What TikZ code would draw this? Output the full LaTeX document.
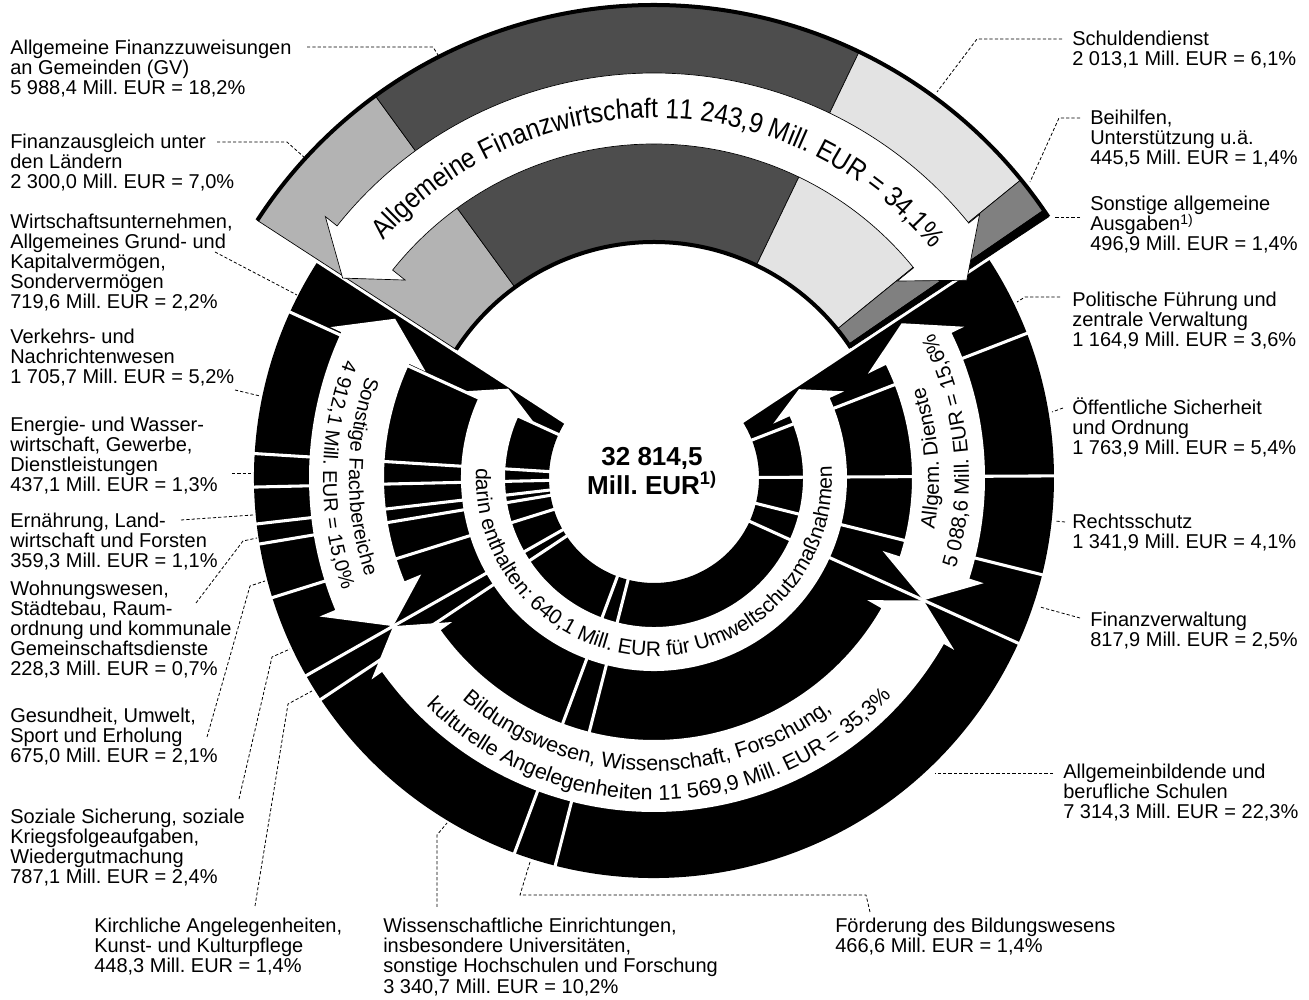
\documentclass[tikz,border=0pt]{standalone}
\usepackage{fontspec}
\setmainfont{Liberation Sans}
\newfontfamily\fwfont[FakeStretch=0.89]{Liberation Sans}
\usetikzlibrary{decorations.text}
\definecolor{gA}{HTML}{B3B3B3}
\definecolor{gB}{HTML}{4D4D4D}
\definecolor{gC}{HTML}{E3E3E3}
\definecolor{gD}{HTML}{808080}
\frenchspacing
\newcommand\lab[1]{\vtop{\fontsize{15pt}{15pt}\selectfont\frenchspacing\baselineskip=15pt\lineskiplimit=-30pt\lineskip=0pt\halign{##\hfil\cr#1\crcr}}}
\begin{document}
\begin{tikzpicture}[x=0.75pt,y=0.75pt,
  lbl/.style={inner sep=0pt, anchor=base west},
  leader/.style={draw=black, line width=0.6pt, dash pattern=on 2.4pt off 1.6pt},
  divider/.style={draw=white, line width=2.3pt},
  gapline/.style={draw=white, line width=5pt},
  gseg/.style={draw=black, line width=0.5pt},
  whitearrow/.style={fill=white},
  grayarrow/.style={fill=white, draw=black, line width=0.5pt},
  ctr/.style={inner sep=0pt, anchor=base, font=\bfseries\fontsize{19.5pt}{19.5pt}\selectfont\frenchspacing}]
\useasboundingbox (0,0) rectangle (1309,999);
\fill[white] (0,0) rectangle (1309,999);

\begin{scope}[shift={(654,521)}]
  % black rings
  \fill[black] (147:400) arc[start angle=147, end angle=393.5, radius=400]
     -- (393.5:105) arc[start angle=393.5, end angle=147, radius=105] -- cycle;
  % gaps between the grey sector and the black rings
  \draw[gapline] (147:95) -- (147:486);
  \draw[gapline] (33.5:95) -- (33.5:486);
  % grey sector
  \filldraw[gseg, fill=gA] (147:236) -- (147:473) arc[start angle=147, end angle=126.1, radius=473] -- (126.1:236) arc[start angle=126.1, end angle=147, radius=236] -- cycle;
  \filldraw[gseg, fill=gB] (126.1:236) -- (126.1:473) arc[start angle=126.1, end angle=64.3, radius=473] -- (64.3:236) arc[start angle=64.3, end angle=126.1, radius=236] -- cycle;
  \filldraw[gseg, fill=gC] (64.3:236) -- (64.3:473) arc[start angle=64.3, end angle=39.1, radius=473] -- (39.1:236) arc[start angle=39.1, end angle=64.3, radius=236] -- cycle;
  \filldraw[gseg, fill=gD] (39.1:236) -- (39.1:473) arc[start angle=39.1, end angle=34.5, radius=473] -- (34.5:236) arc[start angle=34.5, end angle=39.1, radius=236] -- cycle;
  \filldraw[gseg, fill=black] (34.5:236) -- (34.5:473) arc[start angle=34.5, end angle=33.5, radius=473] -- (33.5:236) arc[start angle=33.5, end angle=34.5, radius=236] -- cycle;
  \filldraw[grayarrow] (147.3:370) -- (141.5:420) -- (141.5:405)
     arc[start angle=141.5, end angle=39, radius=405] -- (39:419) -- (32.3:370) -- (39:313) -- (39:334)
     arc[start angle=39, end angle=141.5, radius=334] -- (141.5:318) -- cycle;
  \draw[line width=3pt] (147:473) arc[start angle=147, end angle=33.5, radius=473];
  \draw[line width=3pt] (147:236) arc[start angle=147, end angle=33.5, radius=236];

  % white arrows inside the black rings
  \fill[whitearrow] (148.5:171) -- (155.5:209) -- (155.5:193)
     arc[start angle=155.5, end angle=384.5, radius=193] -- (384.5:209) -- (391.5:170) -- (384.5:131) -- (384.5:149)
     arc[start angle=384.5, end angle=155.5, radius=149] -- (155.5:131) -- cycle;
  \fill[whitearrow] (148.4:304) -- (155:357) -- (155:345)
     arc[start angle=155, end angle=202.5, radius=345] -- (202.5:362) -- (209.6:300) -- (202.5:252) -- (202.5:270)
     arc[start angle=202.5, end angle=155, radius=270] -- (155:252) -- cycle;
  \fill[whitearrow] (209.6:300) -- (215.5:347) -- (215.5:334)
     arc[start angle=215.5, end angle=330.2, radius=334] -- (330.2:346) -- (335.6:296) -- (330.2:246) -- (330.2:262)
     arc[start angle=330.2, end angle=215.5, radius=262] -- (215.5:248) -- cycle;
  \fill[whitearrow] (335.6:296) -- (342.3:346) -- (342.3:331)
     arc[start angle=342.3, end angle=386, radius=331] -- (386:345) -- (392:292) -- (386:238) -- (386:258)
     arc[start angle=386, end angle=342.3, radius=258] -- (342.3:240) -- cycle;

  % white dividers between the items
  \foreach \a in {155.5,176.5,181.3,186.6,189.5,197.4,209.6,213.6,249.6,255.7,335.6,346,360.3,381.2}
    \draw[divider] (\a:103) -- (\a:403);

  % texts along the bands
  \begingroup\fwfont\fontsize{21pt}{21pt}\selectfont
  \path[decorate, decoration={text along path, text align=center,
     text={Allgemeine Finanzwirtschaft 11 243,9 Mill. EUR = 34,1{\%}}}]
     (141:360) arc[start angle=141, end angle=37.2, radius=360];
  \endgroup
  \begingroup\fontsize{15.75pt}{15.75pt}\selectfont
  \path[decorate, decoration={text along path, text align=center,
     text={darin enthalten: 640,1 Mill. EUR für Umweltschutzmaßnahmen}}]
     (160:178) arc[start angle=160, end angle=380.7, radius=178];
  \endgroup
  \begingroup\fontsize{15pt}{15pt}\selectfont
  \path[decorate, decoration={text along path, text align=center,
     text={Sonstige Fachbereiche}}]
     (140:305) arc[start angle=140, end angle=219.4, radius=305];
  \path[decorate, decoration={text along path, text align=center,
     text={4 912,1 Mill. EUR = 15,0{\%}}}]
     (140:331) arc[start angle=140, end angle=218.8, radius=331];
  \endgroup
  \begingroup\fontsize{16pt}{16pt}\selectfont
  \path[decorate, decoration={text along path, text align=center,
     text={Bildungswesen, Wissenschaft, Forschung,}}]
     (218.25:293) arc[start angle=218.25, end angle=318.25, radius=293];
  \path[decorate, decoration={text along path, text align=center,
     text={kulturelle Angelegenheiten 11 569,9 Mill. EUR = 35,3{\%}}}]
     (216.25:322) arc[start angle=216.25, end angle=326.25, radius=322];
  \endgroup
  \begingroup\fontsize{15.5pt}{15.5pt}\selectfont
  \path[decorate, decoration={text along path, text align=center,
     text={Allgem. Dienste}}]
     (-30:285) arc[start angle=-30, end angle=38.2, radius=285];
  \path[decorate, decoration={text along path, text align=center,
     text={5 088,6 Mill. EUR = 15,6{\%}}}]
     (-25:315) arc[start angle=-25, end angle=35.7, radius=315];
  \endgroup
\end{scope}

% total in the centre
\node[ctr] (tot1) at (652,533) {32 814,5};
\node[ctr] (tot2) at (652,504) {Mill. EUR\textsuperscript{1)}};

% labels
\node[lbl] (l1) at (10,944) {\lab{Allgemeine Finanzzuweisungen\cr an Gemeinden (GV)\cr 5 988,4 Mill. EUR = 18,2\%}};
\node[lbl] (l2) at (10,850) {\lab{Finanzausgleich unter\cr den Ländern\cr 2 300,0 Mill. EUR = 7,0\%}};
\node[lbl] (l3) at (10,770) {\lab{Wirtschaftsunternehmen,\cr Allgemeines Grund- und\cr Kapitalvermögen,\cr Sondervermögen\cr 719,6 Mill. EUR = 2,2\%}};
\node[lbl] (l4) at (10,655) {\lab{Verkehrs- und\cr Nachrichtenwesen\cr 1 705,7 Mill. EUR = 5,2\%}};
\node[lbl] (l5) at (10,567) {\lab{Energie- und Wasser-\cr wirtschaft, Gewerbe,\cr Dienstleistungen\cr 437,1 Mill. EUR = 1,3\%}};
\node[lbl] (l6) at (10,471) {\lab{Ernährung, Land-\cr wirtschaft und Forsten\cr 359,3 Mill. EUR = 1,1\%}};
\node[lbl] (l7) at (10,403) {\lab{Wohnungswesen,\cr Städtebau, Raum-\cr ordnung und kommunale\cr Gemeinschaftsdienste\cr 228,3 Mill. EUR = 0,7\%}};
\node[lbl] (l8) at (10,276) {\lab{Gesundheit, Umwelt,\cr Sport und Erholung\cr 675,0 Mill. EUR = 2,1\%}};
\node[lbl] (l9) at (10,175) {\lab{Soziale Sicherung, soziale\cr Kriegsfolgeaufgaben,\cr Wiedergutmachung\cr 787,1 Mill. EUR = 2,4\%}};
\node[lbl] (l10) at (94,66) {\lab{Kirchliche Angelegenheiten,\cr Kunst- und Kulturpflege\cr 448,3 Mill. EUR = 1,4\%}};
\node[lbl] (l11) at (383,66) {\lab{Wissenschaftliche Einrichtungen,\cr insbesondere Universitäten,\cr sonstige Hochschulen und Forschung\cr 3 340,7 Mill. EUR = 10,2\%}};
\node[lbl] (l12) at (835,67) {\lab{Förderung des Bildungswesens\cr 466,6 Mill. EUR = 1,4\%}};
\node[lbl] (l13) at (1072,953) {\lab{Schuldendienst\cr 2 013,1 Mill. EUR = 6,1\%}};
\node[lbl] (l14) at (1090,874) {\lab{Beihilfen,\cr Unterstützung u.ä.\cr 445,5 Mill. EUR = 1,4\%}};
\node[lbl] (l15) at (1090,788) {\lab{Sonstige allgemeine\cr Ausgaben\textsuperscript{1)}\cr 496,9 Mill. EUR = 1,4\%}};
\node[lbl] (l16) at (1072,692) {\lab{Politische Führung und\cr zentrale Verwaltung\cr 1 164,9 Mill. EUR = 3,6\%}};
\node[lbl] (l17) at (1072,584) {\lab{Öffentliche Sicherheit\cr und Ordnung\cr 1 763,9 Mill. EUR = 5,4\%}};
\node[lbl] (l18) at (1072,470) {\lab{Rechtsschutz\cr 1 341,9 Mill. EUR = 4,1\%}};
\node[lbl] (l19) at (1090,372) {\lab{Finanzverwaltung\cr 817,9 Mill. EUR = 2,5\%}};
\node[lbl] (l20) at (1063,220) {\lab{Allgemeinbildende und\cr berufliche Schulen\cr 7 314,3 Mill. EUR = 22,3\%}};

% leader lines
\coordinate (a1) at (307,952); \coordinate (b1) at (433,952); \coordinate (c1) at (438,944);
\draw[leader] (a1) -- (b1) -- (c1);
\coordinate (a2) at (217,857); \coordinate (b2) at (287,857); \coordinate (c2) at (305,841);
\draw[leader] (a2) -- (b2) -- (c2);
\coordinate (a3) at (215,747); \coordinate (c3) at (297,704);
\draw[leader] (a3) -- (c3);
\coordinate (a4) at (235,609); \coordinate (c4) at (260,603);
\draw[leader] (a4) -- (c4);
\coordinate (a5) at (232,526); \coordinate (c5) at (252,526);
\draw[leader] (a5) -- (c5);
\coordinate (a6) at (181,479); \coordinate (c6) at (253,484);
\draw[leader] (a6) -- (c6);
\coordinate (a7) at (196,396); \coordinate (b7) at (243,458); \coordinate (c7) at (257,461);
\draw[leader] (a7) -- (b7) -- (c7);
\coordinate (a8) at (207,262); \coordinate (b8) at (250,413); \coordinate (c8) at (265,418);
\draw[leader] (a8) -- (b8) -- (c8);
\coordinate (a9) at (239,200); \coordinate (b9) at (272,342); \coordinate (c9) at (290,350);
\draw[leader] (a9) -- (b9) -- (c9);
\coordinate (a10) at (255,93); \coordinate (b10) at (288,295); \coordinate (c10) at (312,308);
\draw[leader] (a10) -- (b10) -- (c10);
\coordinate (a11) at (437,92); \coordinate (b11) at (437,164); \coordinate (c11) at (447,176);
\draw[leader] (a11) -- (b11) -- (c11);
\coordinate (a12) at (870,87); \coordinate (b12) at (866,104); \coordinate (d12) at (520,104); \coordinate (c12) at (530,137);
\draw[leader] (a12) -- (b12) -- (d12) -- (c12);
\coordinate (a13) at (1062,960); \coordinate (b13) at (977,960); \coordinate (c13) at (937,907);
\draw[leader] (a13) -- (b13) -- (c13);
\coordinate (a14) at (1080,881); \coordinate (b14) at (1059,881); \coordinate (c14) at (1030,817);
\draw[leader] (a14) -- (b14) -- (c14);
\coordinate (a15) at (1080,782); \coordinate (c15) at (1054,782);
\draw[leader] (a15) -- (c15);
\coordinate (a16) at (1060,702); \coordinate (b16) at (1025,702); \coordinate (c16) at (1017,697);
\draw[leader] (a16) -- (b16) -- (c16);
\coordinate (a17) at (1063,591); \coordinate (c17) at (1052,587);
\draw[leader] (a17) -- (c17);
\coordinate (a18) at (1065,477); \coordinate (c18) at (1055,478);
\draw[leader] (a18) -- (c18);
\coordinate (a19) at (1080,381); \coordinate (c19) at (1040,392);
\draw[leader] (a19) -- (c19);
\coordinate (a20) at (1053,226); \coordinate (c20) at (935,226);
\draw[leader] (a20) -- (c20);
\end{tikzpicture}
\end{document}
